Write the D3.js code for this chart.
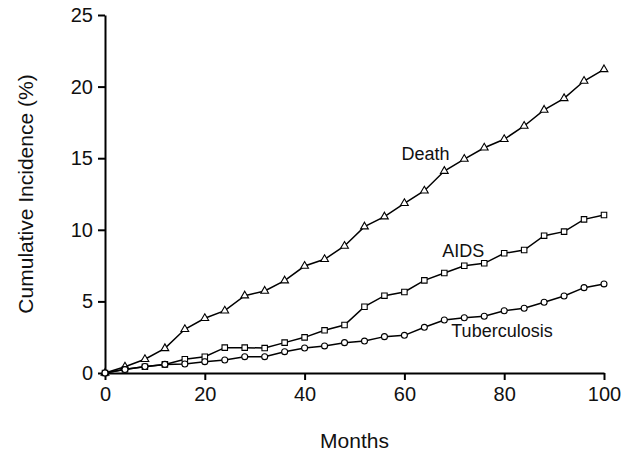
<!DOCTYPE html>
<html>
<head>
<meta charset="utf-8">
<script src="https://cdn.jsdelivr.net/npm/d3@7"></script>
<style>
  body { margin: 0; background: #fff; }
  text { font-family: "Liberation Sans", Arial, Helvetica, sans-serif; fill: #111; }
</style>
</head>
<body>
<div class="chart"></div>
<script>
// cumulative incidence over months, three outcomes

var months = [0, 4, 8, 12, 16, 20, 24, 28, 32, 36, 40, 44, 48, 52, 56, 60, 64, 68, 72, 76, 80, 84, 88, 92, 96, 100];

var death = [0, 0.44, 0.96, 1.72, 3.05, 3.82, 4.35, 5.4, 5.73, 6.45, 7.47, 7.94, 8.87, 10.22, 10.92, 11.85, 12.73, 14.1, 14.94, 15.73, 16.32, 17.25, 18.37, 19.18, 20.39, 21.2];
var aids = [0, 0.26, 0.44, 0.6, 0.96, 1.14, 1.77, 1.77, 1.74, 2.12, 2.49, 2.98, 3.35, 4.63, 5.4, 5.66, 6.47, 6.98, 7.49, 7.66, 8.36, 8.59, 9.59, 9.87, 10.73, 11.03];
var tb = [0, 0.24, 0.45, 0.6, 0.63, 0.79, 0.91, 1.14, 1.14, 1.49, 1.75, 1.89, 2.12, 2.23, 2.54, 2.63, 3.19, 3.7, 3.86, 3.96, 4.35, 4.52, 4.94, 5.38, 5.96, 6.22];

var xTicks = [0, 20, 40, 60, 80, 100];
var yTicks = [0, 5, 10, 15, 20, 25];

var svgWidth = 633;
var svgHeight = 454;
var margin = { top: 15, right: 29, bottom: 81, left: 105 };
var width = svgWidth - margin.left - margin.right;
var height = svgHeight - margin.top - margin.bottom;

var svg = d3.select(".chart")
    .append("svg")
    .attr("width", svgWidth)
    .attr("height", svgHeight);

var chart = svg.append("g")
    .attr("transform", "translate(" + margin.left + "," + margin.top + ")");

var x = d3.scaleLinear().domain([0, 100]).range([0, width]);
var y = d3.scaleLinear().domain([0, 25]).range([height, 0]);

// axes
var bottomAxis = d3.axisBottom(x).tickValues(xTicks).tickSize(7).tickPadding(7).tickSizeOuter(0);
var leftAxis = d3.axisLeft(y).tickValues(yTicks).tickSize(7).tickPadding(5).tickSizeOuter(0);

var gx = chart.append("g")
    .attr("transform", "translate(0," + height + ")")
    .call(bottomAxis);
var gy = chart.append("g")
    .call(leftAxis);

[gx, gy].forEach(function(g) {
    g.select(".domain").attr("stroke", "#000").attr("stroke-width", 2);
    g.selectAll(".tick line").attr("stroke", "#000").attr("stroke-width", 2);
    g.selectAll(".tick text")
        .style("font-family", "'Liberation Sans', Arial, sans-serif")
        .style("font-size", "20px")
        .attr("fill", "#111");
});

// series
var series = [
    { name: "Death", values: death, symbol: d3.symbolTriangle, size: 26 },
    { name: "AIDS", values: aids, symbol: d3.symbolSquare, size: 30 },
    { name: "Tuberculosis", values: tb, symbol: d3.symbolCircle, size: 28 }
];

var line = d3.line()
    .x(function(d) { return x(d[0]); })
    .y(function(d) { return y(d[1]); });

series.forEach(function(s) {
    var pts = months.map(function(m, i) { return [m, s.values[i]]; });

    chart.append("path")
        .datum(pts)
        .attr("fill", "none")
        .attr("stroke", "#000")
        .attr("stroke-width", 1.5)
        .attr("d", line);

    chart.selectAll(null)
        .data(pts)
        .enter().append("path")
        .attr("transform", function(d) { return "translate(" + x(d[0]) + "," + y(d[1]) + ")"; })
        .attr("d", d3.symbol().type(s.symbol).size(s.size))
        .attr("fill", "#fff")
        .attr("stroke", "#000")
        .attr("stroke-width", 1.1);
});

// series labels
var labels = [
    { text: "Death", m: 59.4, v: 14.9 },
    { text: "AIDS", m: 67.6, v: 8.1 },
    { text: "Tuberculosis", m: 69.4, v: 2.5 }
];

chart.selectAll(".lbl")
    .data(labels)
    .enter().append("text")
    .attr("class", "lbl")
    .attr("x", function(d) { return x(d.m); })
    .attr("y", function(d) { return y(d.v); })
    .style("font-size", "18px")
    .text(function(d) { return d.text; });

// axis titles
chart.append("text")
    .attr("transform", "rotate(-90)")
    .attr("x", -height / 2)
    .attr("y", -margin.left + 33)
    .attr("text-anchor", "middle")
    .style("font-size", "21px")
    .text("Cumulative Incidence (%)");

chart.append("text")
    .attr("x", width / 2)
    .attr("y", height + 75)
    .attr("text-anchor", "middle")
    .style("font-size", "21px")
    .text("Months");
</script>
</body>
</html>
